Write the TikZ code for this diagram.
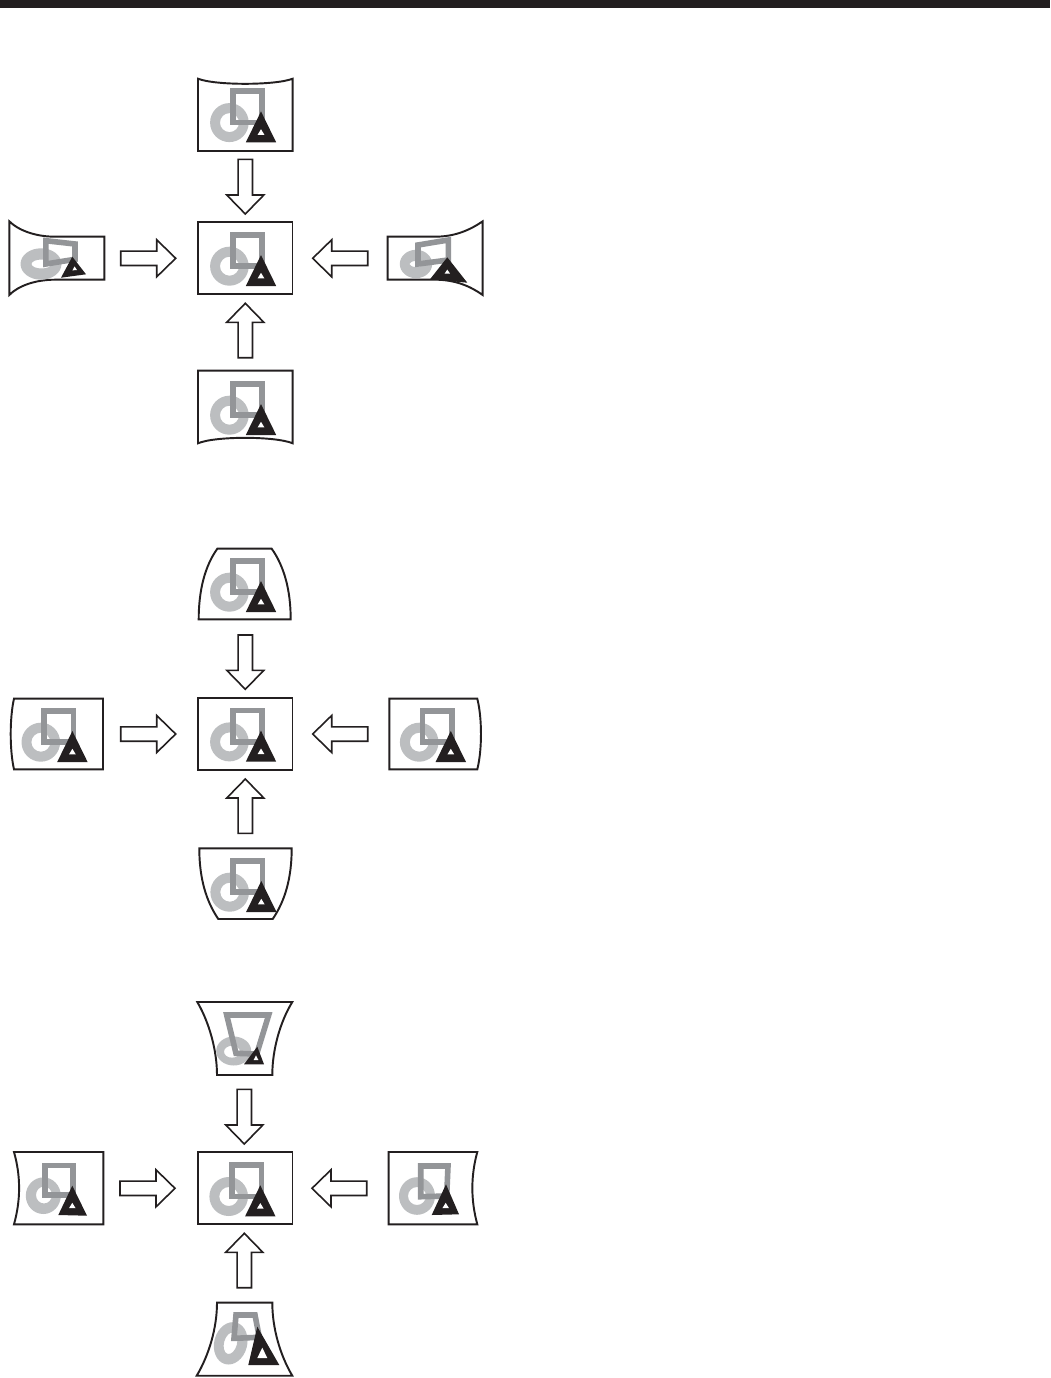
\documentclass[tikz,border=0pt]{standalone}
\usetikzlibrary{calc}
\definecolor{ringgray}{HTML}{BCBEC0}
\definecolor{squaregray}{HTML}{939598}
\definecolor{inkblack}{HTML}{231F20}
\tikzset{
  outline/.style={draw=inkblack,line width=1.45pt,fill=white,line join=miter},
  centerbox/.style={draw=inkblack,line width=1.45pt,fill=white,rectangle,inner sep=0pt,outer sep=0pt,minimum width=70.9pt,minimum height=54pt},
  blockarrow/.style={draw=inkblack,line width=1.2pt,fill=white,line join=miter},
  squareline/.style={draw=squaregray,line width=4.2pt,line join=miter},
  ringfill/.style={fill=ringgray,even odd rule},
  trifill/.style={fill=inkblack},
  holefill/.style={fill=white}
}
% ring: centre, rotation, outer radii, hole centre, hole radii
\newcommand\Ring[7]{\fill[ringfill] (#1) [rotate around={#2:(#1)}] ellipse [x radius=#3,y radius=#4] (#5) ellipse [x radius=#6,y radius=#7];}
\newcommand\Sq[4]{\draw[squareline] (#1) -- (#2) -- (#3) -- (#4) -- cycle;}
\newcommand\Tri[6]{\fill[trifill] (#1) -- (#2) -- (#3) -- cycle; \fill[holefill] (#4) -- (#5) -- (#6) -- cycle;}
% the undistorted artwork, moved by dx,dy
\newcommand\StdArt[2]{\begin{scope}[shift={(#1,#2)}]
  \Ring{229.4,266.2}{0}{19.3}{19.5}{229.5,266.2}{9.5}{9.5}
  \Sq{232.8,234.8}{262.2,234.8}{262.2,266}{232.8,266}
  \Tri{261,255}{245.8,286}{276.2,286}{261,272.8}{257.6,278.4}{264.4,278.4}
\end{scope}}
% block arrow from #1 to #2
\newcommand\BA[2]{\draw[blockarrow]
  ($(#1)!5.4pt!90:(#2)$) --
  ($(#2)!14.25pt!(#1)!5.4pt!90:(#2)$) --
  ($(#2)!14.25pt!(#1)!13.9pt!90:(#2)$) --
  (#2) --
  ($(#2)!14.25pt!(#1)!13.9pt!-90:(#2)$) --
  ($(#2)!14.25pt!(#1)!5.4pt!-90:(#2)$) --
  ($(#1)!5.4pt!-90:(#2)$) -- cycle;}
\begin{document}
\begin{tikzpicture}[x=0.75pt,y=-0.75pt]
\useasboundingbox (0,0) rectangle (1050,1378);
\fill[white] (0,0) rectangle (1050,1378);
\fill[inkblack] (0,0) rectangle (1050,7.5);

% ===== Group 1 =====
\node[centerbox] (c1) at (245.25,258) {};
\StdArt{0}{0}
\draw[outline] (198,78.7) .. controls (215,85.5) and (275,85.5) .. (292.7,78.7) -- (292.7,151) -- (198,151) -- cycle;
\StdArt{0}{-143.6}
\draw[outline] (198,370.7) -- (292.7,370.7) -- (292.7,443.3) .. controls (275,436) and (215,436) .. (198,443.3) -- cycle;
\StdArt{0}{149}
\draw[outline] (9.3,221.3) .. controls (18,230) and (35,236.7) .. (55,236.7) -- (104.3,236.7) -- (104.3,279.7) -- (55,279.7) .. controls (35,279.7) and (18,286) .. (9.3,295) -- cycle;
\Ring{41,264}{0}{20.5}{15.7}{41.5,264}{10}{4.5}
\Sq{45.8,240.7}{75,244}{75,259.3}{45.8,264}
\Tri{72.3,256.7}{61,277.7}{86,274.3}{74.6,266.4}{72.4,270.4}{77,270}
\draw[outline] (387.7,236.7) -- (435,236.7) .. controls (455,236.7) and (470,230) .. (482.7,221.3) -- (482.7,295) .. controls (470,286) and (455,279.7) .. (435,279.7) -- (387.7,279.7) -- cycle;
\Ring{416,264}{0}{16.2}{14.2}{416,264}{6.5}{3}
\Sq{418,245}{448.3,240}{448.3,260}{418,264}
\Tri{447.3,257.3}{430,279.3}{467.3,282.7}{447.3,269.6}{444.6,273.6}{450,273.6}

\coordinate (a1ts) at (245.3,159.3); \coordinate (a1te) at (245.3,214);
\coordinate (a1bs) at (245.3,357.7); \coordinate (a1be) at (245.3,303.3);
\coordinate (a1ls) at (120.7,258.3); \coordinate (a1le) at (175.7,258.3);
\coordinate (a1rs) at (367.7,258.3); \coordinate (a1re) at (312.7,258.3);
\BA{a1ts}{a1te} \BA{a1bs}{a1be} \BA{a1ls}{a1le} \BA{a1rs}{a1re}

% ===== Group 2 =====
\node[centerbox] (c2) at (245.25,733.8) {};
\StdArt{0}{475.7}
\draw[outline] (217.3,548.7) -- (271.7,548.7) .. controls (284,566) and (290.7,590) .. (290.7,619.3) -- (198.7,619.3) .. controls (198.7,590) and (205,566) .. (217.3,548.7) -- cycle;
\StdArt{0}{326}
\draw[outline] (199.3,848.3) -- (291.7,848.3) .. controls (291.7,878) and (285,901) .. (272.7,919) -- (218.3,919) .. controls (206,901) and (199.3,878) .. (199.3,848.3) -- cycle;
\StdArt{0.3}{626}
\draw[outline] (14,698.7) -- (103,698.7) -- (103,769.3) -- (14,769.3) .. controls (9.6,750) and (9.6,718) .. (14,698.7) -- cycle;
\StdArt{-188.6}{476}
\draw[outline] (389.3,698.7) -- (477.3,698.7) .. controls (482.2,718) and (482.2,750) .. (477.3,769.3) -- (389.3,769.3) -- cycle;
\StdArt{189.8}{476}

\coordinate (a2ts) at (245.3,635); \coordinate (a2te) at (245.3,689.3);
\coordinate (a2bs) at (245.3,833.3); \coordinate (a2be) at (245.3,779);
\coordinate (a2ls) at (120.7,734); \coordinate (a2le) at (175.7,734);
\coordinate (a2rs) at (367.7,734); \coordinate (a2re) at (312.7,734);
\BA{a2ts}{a2te} \BA{a2bs}{a2be} \BA{a2ls}{a2le} \BA{a2rs}{a2re}

% ===== Group 3 =====
\node[centerbox] (c3) at (245.25,1188.2) {};
\StdArt{-0.7}{930.3}
\draw[outline] (197.3,1002) -- (292.3,1002) .. controls (280,1022) and (272.3,1050) .. (272.3,1075) -- (217,1075) .. controls (217,1050) and (209,1022) .. (197.3,1002) -- cycle;
\Ring{233.7,1051}{0}{17.5}{14.5}{232,1051.7}{8}{6}
\Sq{226.7,1015}{268.7,1015}{256.7,1054}{236,1053.3}
\Tri{257.3,1046.7}{244,1064.3}{264,1064.3}{256,1055.4}{253.6,1060}{258.4,1060}
\draw[outline] (217,1302.7) -- (272.3,1302.7) .. controls (272.3,1328) and (280,1355) .. (292.3,1375.7) -- (196.7,1375.7) .. controls (209,1355) and (217,1328) .. (217,1302.7) -- cycle;
\Ring{230.7,1343.3}{-15}{16.5}{21.5}{230.5,1343.3}{6.5}{11}
\Sq{236,1315}{255,1315}{259.3,1337.3}{234,1338.3}
\Tri{257.3,1326.7}{248.3,1365}{279.3,1365}{262.3,1347.7}{257.3,1358}{267.3,1358}
\draw[outline] (14,1152) -- (103.3,1152) -- (103.3,1224.3) -- (14,1224.3) .. controls (20.8,1200) and (20.8,1176) .. (14,1152) -- cycle;
\Ring{43.3,1195.7}{0}{17.5}{18.3}{44,1195}{8}{8.5}
\Sq{45,1165.3}{73,1165.3}{73,1195}{45,1195}
\Tri{72.3,1185.7}{58.3,1215}{87,1215.7}{72.3,1202.8}{69,1208.2}{75.6,1208.2}
\draw[outline] (388.7,1152) -- (477.3,1152) .. controls (470.7,1176) and (470.7,1200) .. (477.3,1224.3) -- (388.7,1224.3) -- cycle;
\Ring{417,1196}{0}{18}{18.8}{417,1196}{9}{9}
\Sq{420.7,1166}{448,1166}{446.7,1196}{420.7,1196.7}
\Tri{446,1184.3}{431.7,1215}{459,1214.3}{445.7,1202.8}{442.4,1208.2}{449,1208.2}

\coordinate (a3ts) at (244.3,1089.3); \coordinate (a3te) at (244.3,1144);
\coordinate (a3bs) at (244.3,1287.7); \coordinate (a3be) at (244.3,1233.3);
\coordinate (a3ls) at (120,1188.3); \coordinate (a3le) at (175,1188.3);
\coordinate (a3rs) at (366.7,1188.3); \coordinate (a3re) at (312,1188.3);
\BA{a3ts}{a3te} \BA{a3bs}{a3be} \BA{a3ls}{a3le} \BA{a3rs}{a3re}
\end{tikzpicture}
\end{document}
